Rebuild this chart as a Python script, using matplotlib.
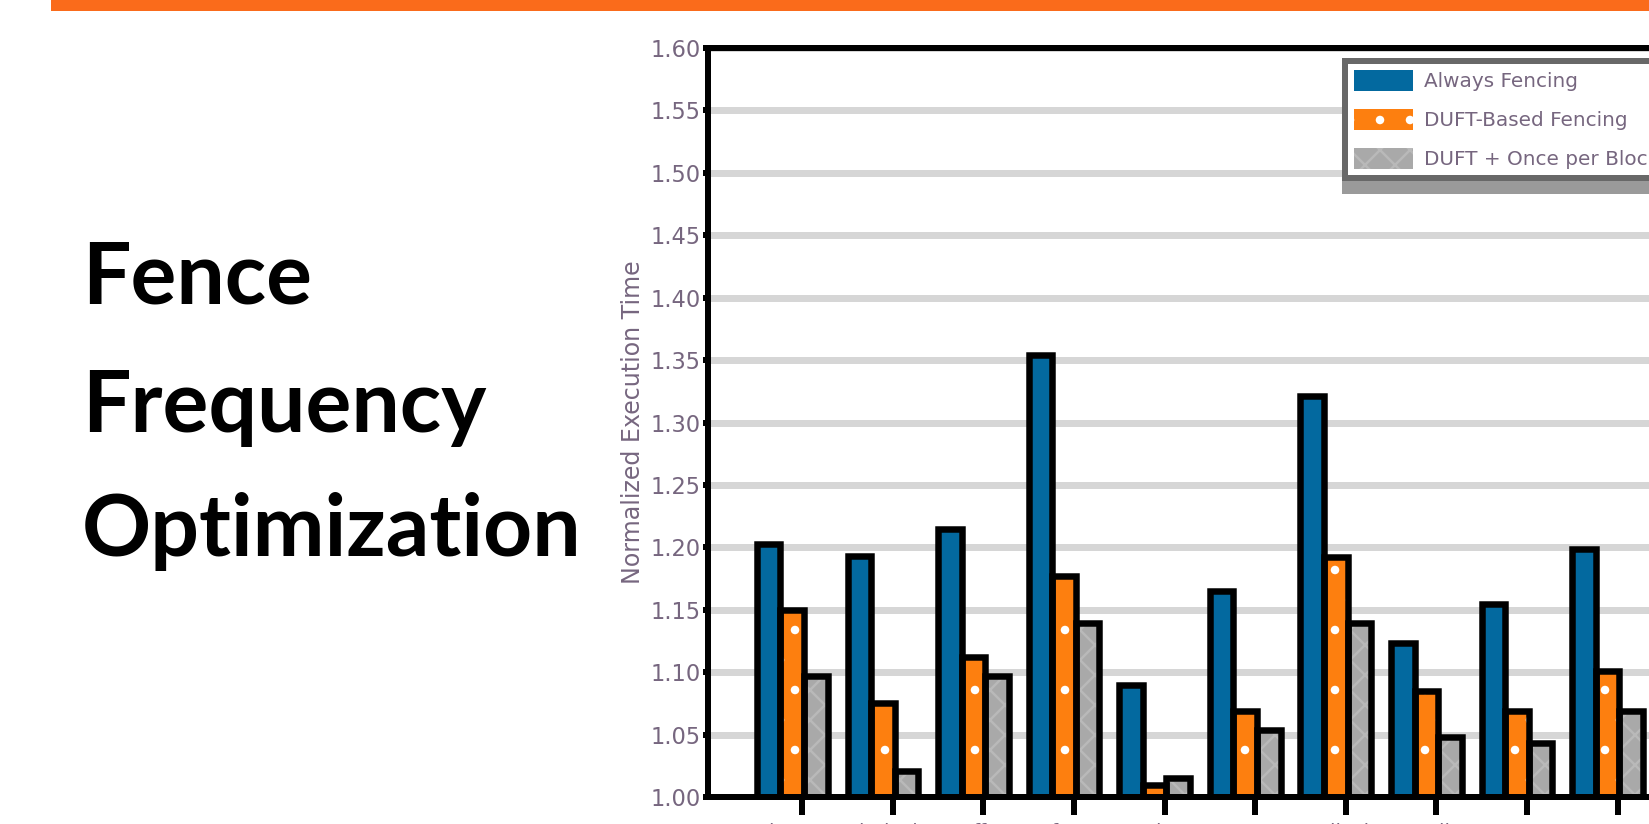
import numpy as np
import matplotlib
matplotlib.use('Agg')
import matplotlib.pyplot as plt
from matplotlib.patches import Rectangle

DPI = 180
W, H = 1649, 824

benchmarks = ['barnes', 'cholesky', 'fft', 'fmm', 'lu', 'ocean', 'radiosity', 'radix', 'raytrace', 'water']
always_fencing = [1.203, 1.193, 1.215, 1.354, 1.090, 1.165, 1.321, 1.123, 1.155, 1.199]
duft_fencing = [1.150, 1.075, 1.112, 1.177, 1.010, 1.069, 1.192, 1.085, 1.069, 1.101]
duft_once = [1.097, 1.021, 1.097, 1.139, 1.015, 1.054, 1.139, 1.048, 1.043, 1.069]
series_names = ['Always Fencing', 'DUFT-Based Fencing', 'DUFT + Once per Block']
yticks = np.arange(1.0, 1.601, 0.05)

BLUE = '#03699f'
ORANGE = '#fd7f0f'
GRAY = '#a9a9a9'
TXT = '#76667f'

plt.rcParams['hatch.linewidth'] = 1.0

fig = plt.figure(figsize=(W / DPI, H / DPI), dpi=DPI)
fig.patch.set_facecolor('white')

# orange strip across the top of the slide
fig.patches.append(Rectangle((51 / W, 1 - 11 / H), 1, 11 / H, transform=fig.transFigure,
                             facecolor='#fa6b1b', edgecolor='none'))

# slide title, one word per line
for word, base in zip(['Fence', 'Frequency', 'Optimization'], [303, 432, 556]):
    fig.text(82 / W, 1 - base / H, word, fontsize=34.3, family='Lato', weight='bold',
             color='black', va='baseline', ha='left')

# axes run past the right edge of the slide
ax = fig.add_axes([708 / W, 27 / H, 992 / W, 749 / H])
x = np.arange(len(benchmarks))
w = 0.26
offsets = [-0.37, -0.11, 0.15]
styles = [(BLUE, None, BLUE), (ORANGE, '.', 'white'), (GRAY, 'xx', '#b9b9b9')]
data = [always_fencing, duft_fencing, duft_once]

handles = []
for k in range(3):
    col, hatch, hcol = styles[k]
    b = ax.bar(x + offsets[k], data[k], width=w, color=col, hatch=hatch, edgecolor=hcol,
               linewidth=0, zorder=2, label=series_names[k])
    handles.append(b)
    ax.bar(x + offsets[k], data[k], width=w, fill=False, edgecolor='black',
           linewidth=2.6, zorder=3)

ax.set_ylim(1.0, 1.6)
ax.set_xlim(-1.04, 9.91)
ax.set_yticks(yticks)
ax.set_yticklabels(['%.2f' % v for v in yticks], fontsize=9, color=TXT)
ax.set_xticks(x)
ax.set_xticklabels(benchmarks, fontsize=8, color=TXT)
ax.tick_params(axis='y', length=2, width=2.4, pad=1)
ax.tick_params(axis='x', length=7, width=2.4, pad=3.5)
ax.yaxis.grid(True, color='#d6d6d6', linewidth=2.8, zorder=0)
ax.set_axisbelow(True)
for s in ax.spines.values():
    s.set_linewidth(2.4)
ax.set_ylabel('Normalized Execution Time', fontsize=9.5, color=TXT, labelpad=2)

leg = ax.legend(handles=handles, loc='upper left', bbox_to_anchor=(1345 / W, 1 - 61 / H),
                bbox_transform=fig.transFigure, borderaxespad=0, fontsize=8,
                handlelength=2.95, handleheight=1.2, handletextpad=0.55, labelspacing=0.9,
                borderpad=0.45, fancybox=False, framealpha=1,
                shadow={'ox': 0, 'oy': -5, 'color': '#9a9a9a', 'alpha': 1})
leg.get_frame().set_edgecolor('#686868')
leg.get_frame().set_linewidth(2.4)
for t in leg.get_texts():
    t.set_color(TXT)

fig.savefig('out.png', dpi=DPI)
